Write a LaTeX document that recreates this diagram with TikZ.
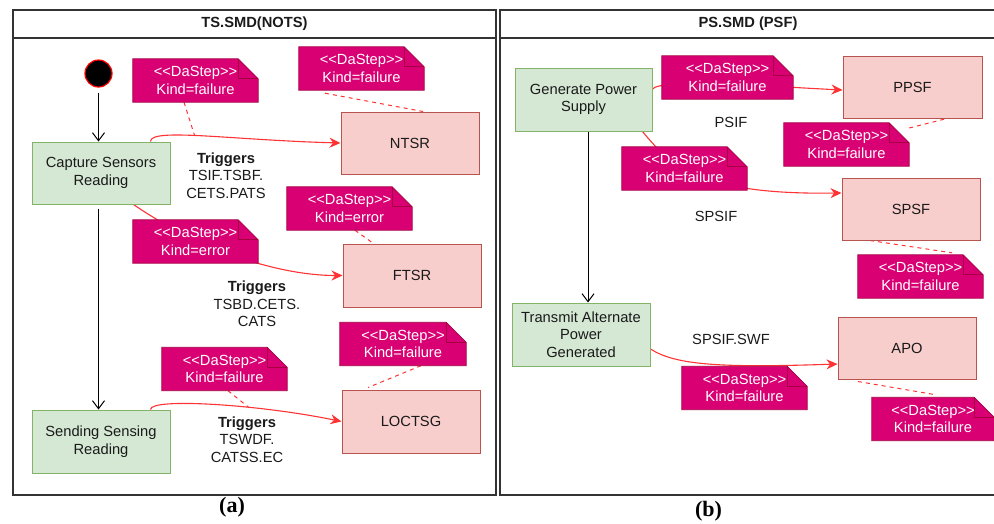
\documentclass[tikz,border=0pt]{standalone}
\usepackage{fontspec}
\setmainfont{Liberation Sans}
\newfontfamily\capfont{Liberation Serif}
\usetikzlibrary{arrows.meta,calc}

\pgfdeclarelayer{wires}
\pgfdeclarelayer{paper}
\pgfsetlayers{wires,paper,main}

\definecolor{actfill}{HTML}{D5E8D4}
\definecolor{actline}{HTML}{82B366}
\definecolor{errfill}{HTML}{F8CECC}
\definecolor{errline}{HTML}{B85450}
\definecolor{notefill}{HTML}{D80073}
\definecolor{noteline}{HTML}{A50040}
\definecolor{flow}{HTML}{FF3333}
\definecolor{frame}{HTML}{333333}
\definecolor{ink}{HTML}{1A1A1A}

\tikzset{
  base font/.style={font=\fontsize{14.7}{17.5}\selectfont},
  activity/.style={base font, draw=actline, fill=actfill, line width=1pt,
    minimum width=138pt, minimum height=62pt, align=center, text=ink, inner sep=2pt},
  state/.style={base font, draw=errline, fill=errfill, line width=1pt,
    minimum width=138pt, minimum height=62pt, text=ink},
  notetext/.style={base font, text=white, align=center,
    minimum width=125pt, minimum height=43pt, inner sep=0pt},
  notebody/.style={fill=notefill, draw=noteline, line width=0.8pt},
  trigger/.style={base font, align=center, text=ink},
  flowarrow/.style={draw=flow, line width=1.1pt, -{Stealth[length=11pt,width=10pt]}},
  ctrl/.style={draw=black, line width=1pt, -{Straight Barb[length=8pt,width=12pt]}},
  tie/.style={draw=flow, line width=1pt, dash pattern=on 4pt off 4pt},
  pane/.style={draw=frame, line width=1.3pt},
}

% stereotype brackets kept apart so they are not merged into guillemets
\newcommand\stereo[1]{<\kern0pt<#1>\kern0pt>}

% <<DaStep>> note with a folded top-right corner: [width] name, centre, kind
\newcommand\stepnote[4][125]{%
  \node[notetext, minimum width=#1pt] (#2) at (#3)
    {\stereo{DaStep}\\Kind=#4};
  \begin{pgfonlayer}{paper}
    \draw[notebody] (#2.south west) |- ([xshift=-20pt]#2.north east)
      -- ([yshift=-20pt]#2.north east) -- (#2.south east) -- cycle;
    \draw[notebody, fill=none] ([xshift=-20pt]#2.north east) |- ([yshift=-20pt]#2.north east);
  \end{pgfonlayer}}

\begin{document}
\begin{tikzpicture}[x=1pt, y=-1pt]
\useasboundingbox (0,0) rectangle (994,523);

% ---------- panel frames ----------
\draw[pane] (13,10) rectangle (496,495);
\draw[pane] (13,38) -- (496,38);
\draw[pane] (994,10) -- (500,10) -- (500,495) -- (994,495);
\draw[pane] (500,38) -- (994,38);
\node[font=\bfseries\fontsize{14.7}{17.5}\selectfont, text=ink] (hA) at (254.5,24) {TS.SMD(NOTS)};
\node[font=\bfseries\fontsize{14.7}{17.5}\selectfont, text=ink] (hB) at (748,24) {PS.SMD (PSF)};

% ---------- TS.SMD(NOTS) ----------
\node[circle, fill=black, draw=red, line width=1.2pt, minimum size=27pt, inner sep=0pt] (start) at (98.5,73.5) {};
\node[activity] (cap) at (101,173) {Capture Sensors\\Reading};
\node[activity, minimum height=63pt] (send) at (101,441.5) {Sending Sensing\\Reading};
\node[state] (ntsr) at (410,143) {NTSR};
\node[state, minimum height=63pt] (ftsr) at (412,275.5) {FTSR};
\node[state, minimum height=63pt] (loctsg) at (411,421.5) {LOCTSG};

\stepnote{n1}{195.5,80.5}{failure}
\stepnote{n2}{361.5,68.5}{failure}
\stepnote{n3}{349.5,208.5}{error}
\stepnote{n4}{195.5,241.5}{error}
\stepnote[126]{n5}{403,344}{failure}
\stepnote{n6}{224.5,369}{failure}

\node[trigger] (tg1) at (226,175.5) {\textbf{Triggers}\\TSIF.TSBF.\\CETS.PATS};
\node[trigger] (tg2) at (257,304) {\textbf{Triggers}\\TSBD.CETS.\\CATS};
\node[trigger] (tg3) at (247,439.5) {\textbf{Triggers}\\TSWDF.\\CATSS.EC};

\begin{pgfonlayer}{wires}
  \draw[ctrl, shorten <=5pt] (start) -- (start |- cap.north);
  \draw[ctrl, shorten <=4pt] (cap.south -| start) -- (send.north -| start);
  \draw[flowarrow] ([xshift=-20pt]cap.north east) .. controls +(0,-14) and +(-110,-3) .. (ntsr.west)
    coordinate[pos=0.45] (t1);
  \draw[flowarrow] ([xshift=-37pt]cap.south east) .. controls +(67,46) and +(-63,0) .. (ftsr.west);
  \draw[flowarrow] ([xshift=-20pt]send.north east) .. controls +(0,-12) and +(-82,-17) .. (loctsg.west)
    coordinate[pos=0.64] (t3);
  \draw[tie] ([xshift=-11.5pt]n1.south) -- (t1);
  \draw[tie] ([xshift=-36.5pt,yshift=-3pt]n2.south) -- ([xshift=13pt]ntsr.north);
  \draw[tie] ([xshift=5.5pt]n3.south) -- ([xshift=-33pt,yshift=-4pt]ftsr.north);
  \draw[tie] ([xshift=18pt]n5.south) -- ([xshift=-43pt,yshift=2pt]loctsg.north);
  \draw[tie] ([xshift=3.5pt]n6.south) -- (t3);
\end{pgfonlayer}

% ---------- PS.SMD (PSF) ----------
\node[activity, minimum width=137pt, minimum height=63pt] (gen) at (583.5,99.5) {Generate Power\\Supply};
\node[activity, minimum height=63pt] (trans) at (581,334.5) {Transmit Alternate\\Power\\Generated};
\node[state, minimum width=139pt] (ppsf) at (912.5,87) {PPSF};
\node[state] (spsf) at (911,209) {SPSF};
\node[state] (apo) at (907,348) {APO};

\stepnote[131]{r1}{727.5,77.5}{failure}
\stepnote{r2}{846.5,144.5}{failure}
\stepnote{r3}{684.5,168.5}{failure}
\stepnote{r4}{920.5,276.5}{failure}
\stepnote{r5}{744.5,388}{failure}
\stepnote[122]{r6}{933,419}{failure}

\node[trigger] (l1) at (731,122.5) {PSIF};
\node[trigger] (l2) at (716,216) {SPSIF};
\node[trigger] (l3) at (731,339) {SPSIF.SWF};

\begin{pgfonlayer}{wires}
  \draw[ctrl] ([xshift=4.5pt]gen.south) -- ([xshift=4.5pt]gen.south |- trans.north);
  \draw[flowarrow] ([yshift=10.5pt]gen.east) .. controls +(8,-11) and +(-63,-3) .. ([yshift=-3pt]ppsf.west);
  \draw[flowarrow] ([xshift=-10pt]gen.south east) .. controls +(28,34) and +(-142,2) .. ([yshift=16pt]spsf.west);
  \draw[flowarrow] ([yshift=-14.5pt]trans.east) .. controls +(25,16) and +(-118,4) .. ([yshift=-16pt]apo.west);
  \draw[tie] ([yshift=16.5pt]r2.east) -- ([xshift=34.5pt]ppsf.south);
  \draw[tie] ([xshift=-41pt]spsf.south) -- ([xshift=31.5pt,yshift=2pt]r4.north);
  \draw[tie] ([xshift=-49pt,yshift=-2pt]apo.south) -- ([yshift=3pt]r6.north);
\end{pgfonlayer}

% ---------- captions ----------
\node[font=\capfont\bfseries\fontsize{22}{24}\selectfont] (capA) at (232,507) {(a)};
\node[font=\capfont\bfseries\fontsize{22}{24}\selectfont] (capB) at (708.5,511) {(b)};
\end{tikzpicture}
\end{document}
